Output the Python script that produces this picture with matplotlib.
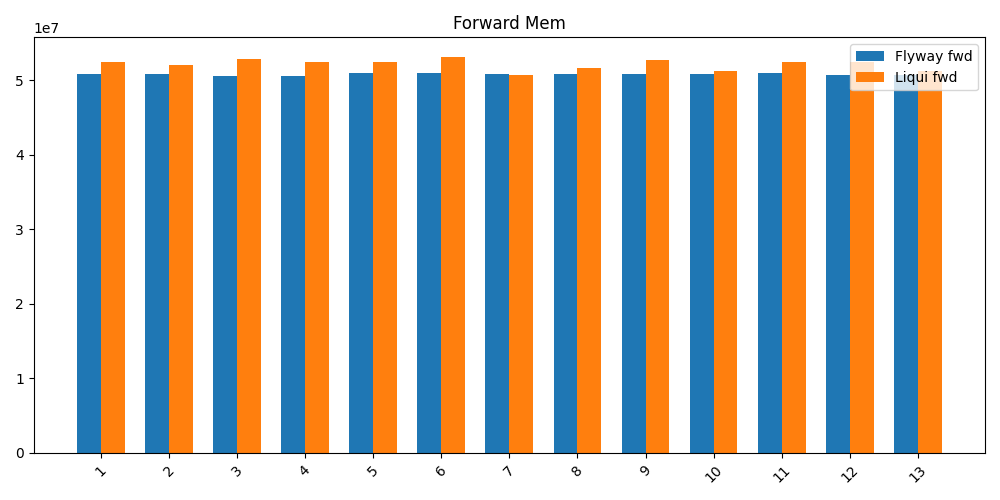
import matplotlib
matplotlib.use("Agg")
import matplotlib.pyplot as plt
import numpy as np

labels = [str(i) for i in range(1, 14)]
flyway = [5.09e7, 5.08e7, 5.05e7, 5.05e7, 5.10e7, 5.10e7, 5.09e7, 5.08e7, 5.08e7, 5.08e7, 5.10e7, 5.07e7, 5.07e7]
liqui = [5.25e7, 5.20e7, 5.28e7, 5.25e7, 5.24e7, 5.31e7, 5.07e7, 5.16e7, 5.27e7, 5.13e7, 5.25e7, 5.24e7, 5.13e7]

x = np.arange(len(labels))
w = 0.35
fig, ax = plt.subplots(figsize=(10, 5), dpi=100)
ax.bar(x - w/2, flyway, w, label="Flyway fwd")
ax.bar(x + w/2, liqui, w, label="Liqui fwd")
ax.set_xticks(x)
ax.set_xticklabels(labels, rotation=45)
ax.set_title("Forward Mem")
ax.legend()
fig.tight_layout()
fig.savefig("out.png")
